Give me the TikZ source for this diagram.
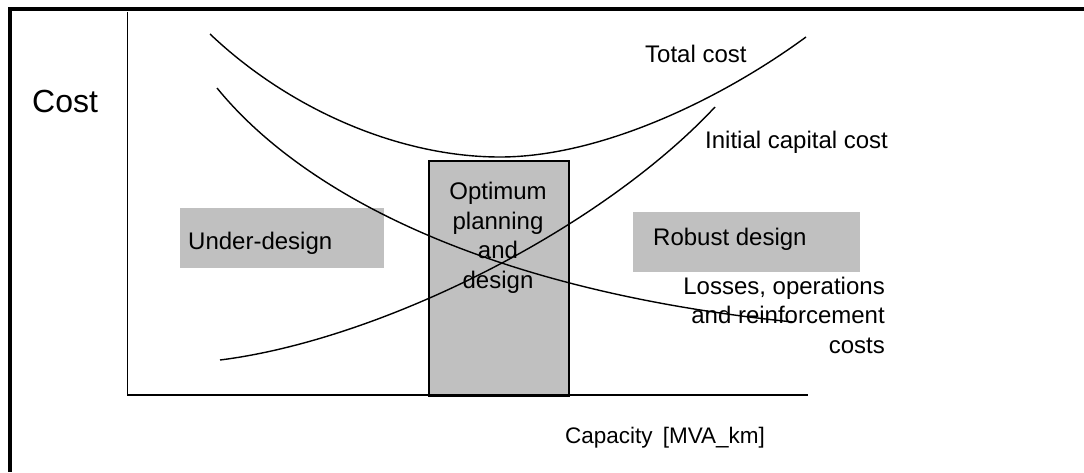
\documentclass[tikz,border=0pt]{standalone}
\usepackage{fontspec}
\setmainfont{Liberation Sans}
\definecolor{boxgray}{HTML}{C0C0C0}
\tikzset{
  frame/.style={line width=4pt, line join=miter},
  axis/.style={line width=1.8pt},
  curve/.style={line width=1.4pt},
  region/.style={fill=boxgray, draw=none, inner sep=0pt, anchor=north west},
  lbl/.style={font=\fontsize{24}{29.5}\selectfont, inner sep=0pt},
}
\begin{document}
\begin{tikzpicture}[x=1pt,y=-1pt]
\useasboundingbox (0,0) rectangle (1084,472);

% outer frame (top and left edges)
\draw[frame] (1084,9) -- (10,9) -- (10,472);

% shaded regions
\node[region, minimum width=204pt, minimum height=60pt] (under) at (180,208) {};
\node[region, minimum width=227pt, minimum height=60pt] (robust) at (633,212) {};
\node[region, draw=black, line width=1.5pt, minimum width=140pt, minimum height=235pt] (opt) at (428,160) {};

% axes
\coordinate (top) at (127.5,12);
\coordinate (origin) at (127.5,395);
\coordinate (xend) at (808,395);
\draw[axis] (top) -- (origin) -- (xend);

% labels
\node[lbl, anchor=base west, font=\fontsize{32}{38}\selectfont] (cost) at (32,112) {Cost};
\node[lbl, anchor=base west] (totl) at (645,62) {Total cost};
\node[lbl, anchor=base west] (initl) at (705,148) {Initial capital cost};
\node[lbl, anchor=base west] (underl) at (188,249) {Under-design};
\node[lbl, anchor=base west] (robustl) at (653,245) {Robust design};
\node[lbl, anchor=base, align=center] (optl) at (498,288) {Optimum\\planning\\and\\design};
\node[lbl, anchor=base east, align=right] (lossl) at (885,353) {Losses, operations\\and reinforcement\\costs};
\node[lbl, anchor=base west, font=\fontsize{22.5}{27}\selectfont] (capl) at (565,443) {Capacity\hspace{0.45em}[MVA\_km]};

% cost curves
\coordinate (tc0) at (210,34);
\coordinate (tcmin) at (500,157);
\coordinate (tc1) at (806,37);
\draw[curve] (tc0) .. controls (290,110) and (400,157) .. (tcmin)
                  .. controls (600,157) and (720,100) .. (tc1);
\coordinate (ic0) at (220,360);
\coordinate (ic1) at (715,107);
\draw[curve] (ic0) .. controls (380,340) and (600,230) .. (ic1);
\coordinate (lc0) at (217,88);
\coordinate (lc1) at (793,322);
\draw[curve] (lc0) .. controls (300,190) and (480,290) .. (lc1);
\end{tikzpicture}
\end{document}
